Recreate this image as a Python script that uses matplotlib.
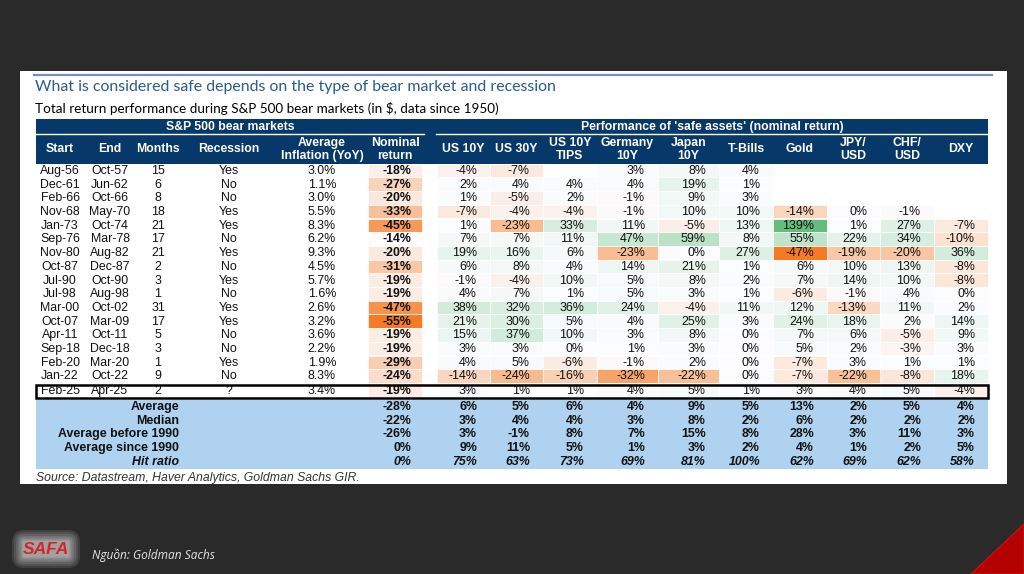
import matplotlib
matplotlib.use("Agg")
import matplotlib.pyplot as plt
from matplotlib.patches import Rectangle, Polygon, FancyBboxPatch
import numpy as np

# ---------------- DATA ----------------
starts = ['Aug-56','Dec-61','Feb-66','Nov-68','Jan-73','Sep-76','Nov-80','Oct-87','Jul-90',
          'Jul-98','Mar-00','Oct-07','Apr-11','Sep-18','Feb-20','Jan-22','Feb-25']
ends = ['Oct-57','Jun-62','Oct-66','May-70','Oct-74','Mar-78','Aug-82','Dec-87','Oct-90',
        'Aug-98','Oct-02','Mar-09','Oct-11','Dec-18','Mar-20','Oct-22','Apr-25']
months = [15, 6, 8, 18, 21, 17, 21, 2, 3, 1, 31, 17, 5, 3, 1, 9, 2]
recession = ['Yes','No','No','Yes','Yes','No','Yes','No','Yes','No','Yes','Yes','No','No','Yes','No','?']
inflation = [3.0, 1.1, 3.0, 5.5, 8.3, 6.2, 9.3, 4.5, 5.7, 1.6, 2.6, 3.2, 3.6, 2.2, 1.9, 8.3, 3.4]
nominal = [-18, -27, -20, -33, -45, -14, -20, -31, -19, -19, -47, -55, -19, -19, -29, -24, -19]

us10y   = [-4, 2, 1, -7, 1, 7, 19, 6, -1, 4, 38, 21, 15, 3, 4, -14, 3]
us30y   = [-7, 4, -5, -4, -23, 7, 16, 8, -4, 7, 32, 30, 37, 3, 5, -24, 1]
tips    = [None, 4, 2, -4, 33, 11, 6, 4, 10, 1, 36, 5, 10, 0, -6, -16, 1]
germany = [3, 4, -1, -1, 11, 47, -23, 14, 5, 5, 24, 4, 3, 1, -1, -32, 4]
japan   = [8, 19, 9, 10, -5, 59, 0, 21, 8, 3, -4, 25, 8, 3, 2, -22, 5]
tbills  = [4, 1, 3, 10, 13, 8, 27, 1, 2, 1, 11, 3, 0, 0, 0, 0, 1]
gold    = [None, None, None, -14, 139, 55, -47, 6, 7, -6, 12, 24, 7, 5, -7, -7, 3]
jpyusd  = [None, None, None, 0, 1, 22, -19, 10, 14, -1, -13, 18, 6, 2, 3, -22, 4]
chfusd  = [None, None, None, -1, 27, 34, -20, 13, 10, 4, 11, 2, -5, -3, 1, -8, 5]
dxy     = [None, None, None, None, -7, -10, 36, -8, -8, 0, 2, 14, 9, 3, 1, 18, -4]

asset_headers = ['US 10Y', 'US 30Y', 'US 10Y\nTIPS', 'Germany\n10Y', 'Japan\n10Y',
                 'T-Bills', 'Gold', 'JPY/\nUSD', 'CHF/\nUSD', 'DXY']
left_headers = ['Start', 'End', 'Months', 'Recession', 'Average\nInflation (YoY)']
nominal_header = 'Nominal\nreturn'

summary_labels = ['Average', 'Median', 'Average before 1990', 'Average since 1990', 'Hit ratio']
summary_nominal = [-28, -22, -26, 0, 0]
summary_average = [6, 5, 6, 4, 9, 5, 13, 2, 5, 4]
summary_median  = [3, 4, 4, 3, 8, 2, 6, 2, 2, 2]
summary_before  = [3, -1, 8, 7, 15, 8, 28, 3, 11, 3]
summary_since   = [9, 11, 5, 1, 3, 2, 4, 1, 2, 5]
summary_hit     = [75, 63, 73, 69, 81, 100, 62, 69, 62, 58]

title = 'What is considered safe depends on the type of bear market and recession'
subtitle = 'Total return performance during S&P 500 bear markets (in $, data since 1950)'
group_left = 'S&P 500 bear markets'
group_right = "Performance of 'safe assets' (nominal return)"
source = 'Source: Datastream, Haver Analytics, Goldman Sachs GIR.'
credit = 'Nguồn: Goldman Sachs'

# ---------------- LAYOUT / STYLE ----------------
BG = '#2a2a2a'
NAVY = '#07386a'
SUMBLUE = '#aed2f0'
ORANGE = np.array([244, 123, 36]) / 255
GREEN = np.array([99, 190, 123]) / 255
WHITE = np.array([252, 252, 255]) / 255
DATA_FONT = 'Liberation Sans'

left_centers = [60, 110, 158, 229, 322]
nominal_edges = (368, 422)
asset_edges = [437, 490, 543, 597, 658, 719, 773, 827, 880, 934, 988]
table_left, table_right = 36, 988
hdr_top, hdr_mid, hdr_bot = 119, 134, 164
row_top0, row_h = 163.7, 13.7
sum_top, sum_h = 399.5, 13.8
fs = 8.9

fig = plt.figure(figsize=(10.24, 5.74), dpi=100)
fig.patch.set_facecolor(BG)
ax = fig.add_axes([0, 0, 1, 1])
ax.set_xlim(0, 1024)
ax.set_ylim(574, 0)
ax.axis('off')

# white panel
ax.add_patch(Rectangle((20, 71), 987, 413, facecolor='white', edgecolor='none', zorder=0))
ax.plot([34, 992], [74.6, 74.6], color='#7391bb', lw=1.6, zorder=1)

ax.text(35, 91.0, title, fontfamily='Lato', fontsize=11.4, color='#2c5b8e', va='baseline')
ax.text(35, 113.3, subtitle, fontfamily='Lato', fontsize=9.7, color='black', va='baseline')

# header block
ax.add_patch(Rectangle((table_left, hdr_top), table_right - table_left, hdr_bot - hdr_top,
                       facecolor=NAVY, edgecolor='none', zorder=1))
ax.plot([table_left, 424], [hdr_mid, hdr_mid], color='white', lw=1.0, zorder=2)
ax.plot([436, table_right], [hdr_mid, hdr_mid], color='white', lw=1.0, zorder=2)
hkw = dict(fontfamily=DATA_FONT, fontweight='bold', color='white', fontsize=8.8,
           ha='center', va='center', linespacing=1.12, zorder=3)
ax.text((table_left + 424) / 2, (hdr_top + hdr_mid) / 2 + 0.5, group_left, **hkw)
ax.text((436 + table_right) / 2, (hdr_top + hdr_mid) / 2 + 0.5, group_right, **hkw)
hcy = (hdr_mid + hdr_bot) / 2 + 0.5
for cx, lab in zip(left_centers, left_headers):
    ax.text(cx, hcy, lab, **hkw)
ax.text(sum(nominal_edges) / 2, hcy, nominal_header, **hkw)
for j, lab in enumerate(asset_headers):
    ax.text((asset_edges[j] + asset_edges[j + 1]) / 2, hcy, lab, **hkw)

# colour scales
asset_cols = [us10y, us30y, tips, germany, japan, tbills, gold, jpyusd, chfusd, dxy]
all_vals = [v for col in asset_cols for v in col if v is not None]
amin, amax = min(all_vals), max(all_vals)
nmin, nmax = min(nominal), max(nominal)

def mix(c, t):
    t = max(0.0, min(1.0, t))
    return tuple(WHITE + (c - WHITE) * t)

def asset_color(v):
    if v < 0:
        return mix(ORANGE, v / amin)
    return mix(GREEN, v / amax)

def nominal_color(v):
    return mix(ORANGE, (v - nmax) / (nmin - nmax))

n = len(starts)
row_tops = [row_top0 + i * row_h for i in range(n)]
row_hs = [row_h] * n
row_hs[-1] = sum_top - row_tops[-1]

dkw = dict(fontfamily=DATA_FONT, fontsize=fs, color='#111111', va='center', zorder=4)
for i in range(n):
    y0, h = row_tops[i], row_hs[i]
    yc = y0 + (row_h / 2 if i < n - 1 else 7.8) + 0.4
    ax.text(left_centers[0], yc, starts[i], ha='center', **dkw)
    ax.text(left_centers[1], yc, ends[i], ha='center', **dkw)
    ax.text(left_centers[2], yc, str(months[i]), ha='center', **dkw)
    ax.text(left_centers[3], yc, recession[i], ha='center', **dkw)
    ax.text(left_centers[4], yc, f'{inflation[i]:.1f}%', ha='center', **dkw)
    nx0, nx1 = nominal_edges
    ax.add_patch(Rectangle((nx0, y0), nx1 - nx0, row_h if i < n - 1 else h - 1.5,
                           facecolor=nominal_color(nominal[i]),
                           edgecolor='white', lw=0.5, zorder=2))
    ax.text(nx1 - 10.5, yc, f'{nominal[i]}%', ha='right', fontweight='bold', **dkw)
    for j, col in enumerate(asset_cols):
        v = col[i]
        if v is None:
            continue
        x0, x1 = asset_edges[j], asset_edges[j + 1]
        ax.add_patch(Rectangle((x0, y0), x1 - x0, row_h if i < n - 1 else h - 1.5,
                               facecolor=asset_color(v), edgecolor='white', lw=0.5, zorder=2))
        ax.text(x1 - 13, yc, f'{v}%', ha='right', **dkw)

# highlight box for last row
yb = row_tops[-1]
ax.add_patch(Rectangle((table_left, yb + 2.2), table_right - table_left, row_hs[-1] - 3.6,
                       facecolor='none', edgecolor='black', lw=1.8, zorder=5))

# summary block
ax.add_patch(Rectangle((table_left, sum_top), table_right - table_left, sum_h * len(summary_labels),
                       facecolor=SUMBLUE, edgecolor='none', zorder=1))
summary_rows = [summary_average, summary_median, summary_before, summary_since, summary_hit]
for k, lab in enumerate(summary_labels):
    yc = sum_top + (k + 0.5) * sum_h + 0.3
    style = 'italic' if lab == 'Hit ratio' else 'normal'
    skw = dict(fontfamily=DATA_FONT, fontsize=fs, color='#111111', va='center',
               fontweight='bold', fontstyle=style, zorder=4)
    ax.text(179, yc, lab, ha='right', **skw)
    ax.text(nominal_edges[1] - 10.5, yc, f'{summary_nominal[k]}%', ha='right', **skw)
    for j, v in enumerate(summary_rows[k]):
        ax.text(asset_edges[j + 1] - 13, yc, f'{v}%', ha='right', **skw)

ax.text(36, 478.5, source, fontfamily=DATA_FONT, fontsize=8.8, fontstyle='italic',
        color='#333333', va='center')

# footer: logo + credit + red corner
for pad in [12, 10, 8, 6, 4.5, 3, 2, 1]:
    ax.add_patch(FancyBboxPatch((24, 542), 44, 14, boxstyle=f'round,pad={pad}',
                                facecolor='white', edgecolor='none', alpha=0.1, zorder=1))
ax.text(46, 549, 'SAFA', fontfamily=DATA_FONT, fontweight='bold', fontstyle='italic',
        fontsize=12.5, color='#d3252b', ha='center', va='center', zorder=3)
ax.text(56, 560, 'CAPITAL', fontfamily=DATA_FONT, fontsize=3, color='#888888',
        ha='center', va='center', zorder=3)
ax.text(92, 555, credit, fontfamily=['Open Sans', 'DejaVu Sans'], fontstyle='italic',
        fontsize=8.6, color='#e6e6e6', va='center')
ax.add_patch(Polygon([(971, 574), (1024, 524), (1024, 574)], closed=True,
                     facecolor='#b30000', edgecolor='#d01010', lw=0.8, zorder=1))

fig.savefig('out.png', dpi=100, facecolor=fig.get_facecolor())
